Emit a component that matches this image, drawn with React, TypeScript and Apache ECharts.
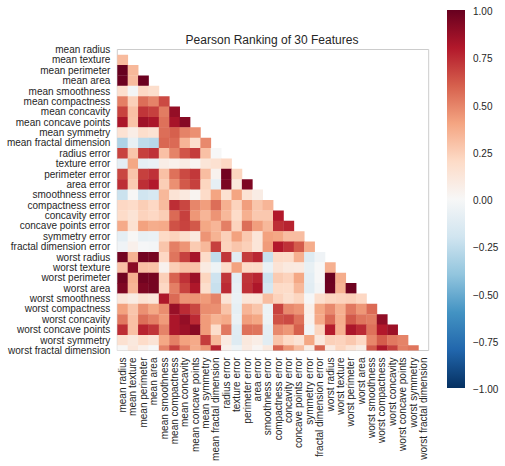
import React, { useEffect, useRef } from "react";
import * as echarts from "echarts";

const features = [
  "mean radius", "mean texture", "mean perimeter", "mean area", "mean smoothness",
  "mean compactness", "mean concavity", "mean concave points", "mean symmetry", "mean fractal dimension",
  "radius error", "texture error", "perimeter error", "area error", "smoothness error",
  "compactness error", "concavity error", "concave points error", "symmetry error", "fractal dimension error",
  "worst radius", "worst texture", "worst perimeter", "worst area", "worst smoothness",
  "worst compactness", "worst concavity", "worst concave points", "worst symmetry", "worst fractal dimension",
];

// Lower triangle of the correlation matrix, one row per feature (diagonal masked)
const lowerTriangle: number[][] = [
  [],
  [.32],
  [1.0, .33],
  [.99, .32, .99],
  [.17, -.02, .21, .18],
  [.51, .24, .56, .50, .66],
  [.68, .30, .72, .69, .52, .88],
  [.82, .29, .85, .82, .55, .83, .92],
  [.15, .07, .18, .15, .56, .60, .50, .46],
  [-.31, -.08, -.26, -.28, .58, .57, .34, .17, .48],
  [.68, .28, .69, .73, .30, .50, .63, .70, .30, .00],
  [-.10, .39, -.09, -.07, .07, .05, .08, .02, .13, .16, .21],
  [.67, .28, .69, .73, .30, .55, .66, .71, .31, .04, .97, .22],
  [.74, .26, .74, .80, .25, .46, .62, .69, .22, -.09, .95, .11, .94],
  [-.22, .01, -.20, -.17, .33, .14, .10, .03, .19, .40, .16, .40, .15, .08],
  [.21, .19, .25, .21, .32, .74, .67, .49, .42, .56, .36, .23, .42, .28, .34],
  [.19, .14, .23, .21, .25, .57, .69, .44, .34, .45, .33, .19, .36, .27, .27, .80],
  [.38, .16, .41, .37, .38, .64, .68, .62, .39, .34, .51, .23, .56, .42, .33, .74, .77],
  [-.10, .01, -.08, -.07, .20, .23, .18, .10, .45, .35, .24, .41, .27, .13, .41, .39, .31, .31],
  [-.04, .05, -.01, -.02, .28, .51, .45, .26, .33, .69, .23, .28, .24, .13, .43, .80, .73, .61, .37],
  [.97, .35, .97, .96, .21, .54, .69, .83, .19, -.25, .72, -.11, .70, .76, -.23, .20, .19, .36, -.13, -.04],
  [.30, .91, .30, .29, .04, .25, .30, .29, .09, -.05, .19, .41, .20, .20, -.07, .14, .10, .09, -.08, -.00, .36],
  [.97, .36, .97, .96, .24, .59, .73, .86, .22, -.21, .72, -.10, .72, .76, -.22, .26, .23, .39, -.10, -.00, .99, .37],
  [.94, .34, .94, .96, .21, .51, .68, .81, .18, -.23, .75, -.08, .73, .81, -.18, .20, .19, .33, -.11, -.02, .98, .35, .98],
  [.12, .08, .15, .12, .81, .57, .45, .45, .43, .50, .14, -.07, .13, .13, .31, .23, .17, .22, -.01, .17, .22, .23, .24, .21],
  [.41, .28, .46, .39, .47, .87, .75, .67, .47, .46, .29, -.09, .34, .28, -.06, .68, .48, .45, .06, .39, .48, .36, .53, .44, .57],
  [.53, .30, .56, .51, .43, .82, .88, .75, .43, .35, .38, -.07, .42, .39, -.06, .64, .66, .55, .04, .38, .57, .37, .62, .54, .52, .89],
  [.74, .30, .77, .72, .50, .82, .86, .91, .43, .18, .53, -.12, .55, .54, -.10, .48, .44, .60, -.03, .22, .79, .36, .82, .75, .55, .80, .86],
  [.16, .11, .19, .14, .39, .51, .41, .38, .70, .33, .09, -.13, .11, .07, -.11, .28, .20, .14, .39, .11, .24, .23, .27, .21, .49, .61, .53, .50],
  [.01, .12, .05, .00, .50, .69, .51, .37, .44, .77, .05, -.05, .09, .02, .10, .59, .44, .31, .08, .59, .09, .22, .14, .08, .62, .81, .69, .51, .54],
];

const rdBuReversed = [
  "#053061", "#2166ac", "#4393c3", "#92c5de", "#d1e5f0", "#f7f7f7",
  "#fddbc7", "#f4a582", "#d6604d", "#b2182b", "#67001f",
];

const colorbarRange = [-1, 1];
const chartTitle = "Pearson Ranking of 30 Features";
const textColor = "#262626";
const fontFamily = '"Liberation Sans", Arial, sans-serif';

export default function App() {
  const ref = useRef<HTMLDivElement>(null);

  useEffect(() => {
    document.body.style.margin = "0";
    const chart = echarts.init(ref.current!, undefined, { renderer: "svg" });
    const cells: number[][] = [];
    lowerTriangle.forEach((row, i) => row.forEach((v, j) => cells.push([j, i, v])));

    chart.setOption({
      animation: false,
      backgroundColor: "#ffffff",
      textStyle: { fontFamily },
      title: {
        text: chartTitle,
        left: 272,
        top: 34,
        textAlign: "center",
        padding: 0,
        textStyle: { fontSize: 12, fontWeight: "normal", color: textColor, fontFamily },
      },
      grid: [
        {
          left: 117.3, top: 49.5, width: 311.4, height: 301,
          show: true, borderColor: "#cccccc", borderWidth: 1, backgroundColor: "#ffffff",
          containLabel: false,
        },
        { left: 447, top: 10, width: 18, height: 378, show: false, containLabel: false },
        { left: 447, top: 11.5, width: 18, height: 378, show: false, containLabel: false },
      ],
      xAxis: [
        {
          type: "category", gridIndex: 0, data: features, boundaryGap: true, position: "bottom",
          axisLine: { show: false }, axisTick: { show: false }, splitLine: { show: false },
          axisLabel: { interval: 0, rotate: 90, margin: 7, fontSize: 10, color: textColor, fontFamily },
        },
        { type: "value", gridIndex: 1, min: 0, max: 1, show: false },
        { type: "value", gridIndex: 2, min: 0, max: 1, show: false },
      ],
      yAxis: [
        {
          type: "category", gridIndex: 0, data: features, boundaryGap: false, inverse: true,
          axisLine: { show: false }, axisTick: { show: false }, splitLine: { show: false },
          axisLabel: { interval: 0, margin: 7, fontSize: 10, color: textColor, fontFamily },
        },
        { type: "value", gridIndex: 1, min: -1, max: 1, show: false },
        {
          type: "value", gridIndex: 2, min: -1, max: 1, interval: 0.25, position: "right",
          axisLine: { show: false }, axisTick: { show: false }, splitLine: { show: false },
          axisLabel: {
            margin: 8, fontSize: 10, color: textColor, fontFamily,
            formatter: (v: number) => (v < 0 ? "\u2212" : "") + Math.abs(v).toFixed(2),
          },
        },
      ],
      visualMap: {
        type: "continuous",
        show: false,
        min: -1,
        max: 1,
        seriesIndex: 0,
        dimension: 2,
        inRange: { color: rdBuReversed },
      },
      series: [
        {
          type: "custom",
          xAxisIndex: 0,
          yAxisIndex: 0,
          clip: true,
          encode: { x: 0, y: 1 },
          data: cells,
          renderItem: (_params: any, api: any) => {
            const c = api.coord([api.value(0), api.value(1)]);
            const s = api.size([1, 1]);
            return {
              type: "rect",
              shape: { x: c[0] - s[0] / 2, y: c[1] - s[1] / 2, width: s[0] + 0.4, height: s[1] + 0.4 },
              style: { fill: api.visual("color") },
            };
          },
        },
        {
          type: "custom",
          xAxisIndex: 1,
          yAxisIndex: 1,
          silent: true,
          encode: { x: 0, y: 1 },
          data: [[0, colorbarRange[0]]],
          renderItem: (_params: any, api: any) => {
            const lo = api.coord([0, colorbarRange[0]]);
            const hi = api.coord([1, colorbarRange[1]]);
            return {
              type: "rect",
              shape: { x: lo[0], y: hi[1], width: hi[0] - lo[0], height: lo[1] - hi[1] },
              style: {
                fill: new echarts.graphic.LinearGradient(0, 1, 0, 0,
                  rdBuReversed.map((color, i) => ({ offset: i / (rdBuReversed.length - 1), color }))),
              },
            };
          },
        },
      ],
    });
    return () => chart.dispose();
  }, []);

  return <div ref={ref} style={{ position: "absolute", left: 0, top: 0, width: 505, height: 466 }} />;
}
